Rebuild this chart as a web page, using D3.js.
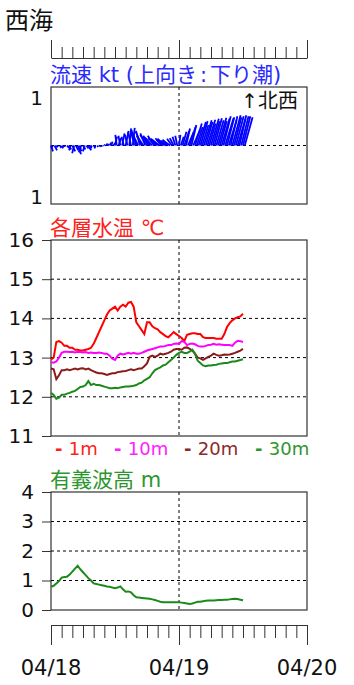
<!DOCTYPE html>
<html>
<head>
<meta charset="utf-8">
<script src="https://cdn.jsdelivr.net/npm/d3@7"></script>
<style>
  body { margin: 0; background: #fff; }
  text { font-family: "DejaVu Sans", "Noto Sans CJK JP", sans-serif; }
</style>
</head>
<body>
<svg id="chart" width="354" height="685"></svg>
<script>
// x axis: hours since 04/18 00:00
const dayLabels = ["04/18", "04/19", "04/20"];
const dayHours = [0, 24, 48];

// current sticks, one every 20 minutes (kt): along = toward 北西 (up), cross = sideways
const curStep = 1 / 3;
const curAlong = [
  -0.12, -0.06, -0.10, -0.04, -0.03, -0.05, -0.06, -0.03, -0.02, -0.05, -0.08, -0.10,
  -0.12, -0.16, -0.10, -0.18, -0.12, -0.14, -0.08, -0.12, -0.06, -0.10, -0.05, -0.08,
  -0.04, -0.06, -0.03, -0.02, -0.03, -0.01, 0.02, 0.04, 0.03, 0.06, 0.08, 0.05,
  0.18, 0.22, 0.15, 0.20, 0.25, 0.18, 0.30, 0.22, 0.35, 0.28, 0.36, 0.30,
  0.32, 0.25, 0.30, 0.28, 0.20, 0.25, 0.22, 0.18, 0.20, 0.16, 0.20, 0.15,
  0.14, 0.12, 0.15, 0.12, 0.14, 0.10, 0.12, 0.10, 0.14, 0.15, 0.18, 0.20,
  0.22, 0.18, 0.28, 0.30, 0.35, 0.28, 0.38, 0.42, 0.32, 0.45, 0.38, 0.48,
  0.50, 0.42, 0.52, 0.48, 0.53, 0.45, 0.55, 0.50, 0.56, 0.52, 0.57, 0.50,
  0.55, 0.60, 0.56, 0.58, 0.52, 0.60, 0.62, 0.58, 0.60, 0.55, 0.62, 0.60,
  0.60, 0.58
];
const curCross = [
  0.04, -0.03, 0.05, 0.02, -0.02, 0.03, 0.03, 0.02, -0.02, 0.04, 0.05, -0.03,
  0.06, -0.04, 0.05, 0.07, 0.04, -0.05, 0.05, -0.04, 0.04, 0.06, 0.03, -0.04,
  0.03, -0.02, 0.02, 0.02, 0.01, 0.02, 0.02, 0.03, 0.02, 0.03, 0.02, 0.04,
  0.04, -0.03, 0.05, -0.04, 0.05, -0.05, 0.06, -0.05, 0.04, -0.06, 0.04, -0.08,
  -0.10, -0.12, -0.08, -0.12, -0.14, -0.10, -0.14, -0.12, -0.15, -0.15, -0.13, -0.16,
  -0.14, -0.15, -0.12, -0.13, -0.15, -0.12, -0.12, -0.14, -0.10, -0.08, -0.06, -0.04,
  0.03, 0.06, 0.08, 0.10, 0.08, 0.12, 0.12, 0.10, 0.14, 0.14, 0.12, 0.15,
  0.15, 0.13, 0.16, 0.14, 0.16, 0.13, 0.16, 0.14, 0.15, 0.15, 0.17, 0.14,
  0.16, 0.15, 0.17, 0.15, 0.16, 0.14, 0.17, 0.15, 0.16, 0.16, 0.14, 0.15,
  0.15, 0.16
];
const curLabels = ["1", "1"];
const curLabelValues = [1, -1];

// water temperature, one every 30 minutes (℃)
const tempStep = 0.5;
const temp1m = [
  12.95, 13.0, 13.4, 13.42, 13.38, 13.3, 13.3, 13.25, 13.25, 13.2, 13.2, 13.18,
  13.18, 13.2, 13.22, 13.25, 13.35, 13.5, 13.65, 13.8, 13.95, 14.1, 14.2, 14.25,
  14.3, 14.2, 14.3, 14.35, 14.3, 14.4, 14.42, 14.3, 13.9, 13.8, 13.7, 13.6,
  13.9, 13.9, 13.8, 13.75, 13.72, 13.65, 13.6, 13.55, 13.52, 13.58, 13.65, 13.6,
  13.55, 13.5, 13.42, 13.58, 13.6, 13.62, 13.62, 13.6, 13.6, 13.52, 13.5, 13.5,
  13.5, 13.5, 13.48, 13.48, 13.48, 13.6, 13.78, 13.88, 13.95, 14.0, 14.03, 14.05,
  14.12
];
const temp10m = [
  12.88, 12.87, 12.9, 13.0, 13.12, 13.15, 13.15, 13.14, 13.15, 13.13, 13.15, 13.14,
  13.13, 13.14, 13.12, 13.13, 13.12, 13.12, 13.13, 13.12, 13.1, 13.1, 13.05, 12.97,
  12.94, 13.05, 13.1, 13.08, 13.1, 13.12, 13.1, 13.12, 13.1, 13.1, 13.12, 13.15,
  13.18, 13.2, 13.22, 13.24, 13.26, 13.28, 13.28, 13.3, 13.32, 13.32, 13.35, 13.36,
  13.35, 13.42, 13.4, 13.32, 13.35, 13.36, 13.34, 13.3, 13.28, 13.28, 13.3, 13.32,
  13.33, 13.35, 13.33, 13.34, 13.33, 13.32, 13.32, 13.32, 13.3, 13.38, 13.43, 13.42,
  13.4
];
const temp20m = [
  12.72, 12.7, 12.45, 12.55, 12.68, 12.68, 12.7, 12.68, 12.7, 12.72, 12.7, 12.72,
  12.73, 12.7, 12.72, 12.68, 12.65, 12.62, 12.6, 12.6, 12.58, 12.56, 12.58, 12.6,
  12.6, 12.63, 12.64, 12.65, 12.66, 12.68, 12.7, 12.68, 12.7, 12.72, 12.72, 12.78,
  12.85, 13.02, 13.05, 13.02, 13.05, 13.1, 13.08, 13.1, 13.12, 13.15, 13.2, 13.22,
  13.22, 13.2, 13.25, 13.26, 13.22, 13.18, 13.1, 13.0, 12.98, 12.94, 12.98, 13.02,
  13.05, 13.1, 13.07, 13.05, 13.06, 13.08, 13.07, 13.08, 13.1, 13.12, 13.15, 13.18,
  13.22
];
const temp30m = [
  12.1, 12.05, 11.95, 11.98, 12.05, 12.05, 12.08, 12.1, 12.13, 12.15, 12.2, 12.25,
  12.26, 12.3, 12.4, 12.3, 12.33, 12.3, 12.3, 12.28, 12.26, 12.24, 12.22, 12.22,
  12.23, 12.22, 12.24, 12.25, 12.26, 12.26, 12.27, 12.28, 12.3, 12.34, 12.36, 12.42,
  12.46, 12.5, 12.6, 12.68, 12.72, 12.75, 12.8, 12.82, 12.88, 12.94, 13.0, 13.07,
  13.12, 13.15, 13.12, 13.12, 13.15, 13.2, 13.1, 12.92, 12.86, 12.8, 12.78, 12.8,
  12.8, 12.81, 12.82, 12.84, 12.85, 12.86, 12.86, 12.88, 12.9, 12.9, 12.92, 12.94,
  12.96
];
const tempTicks = [11, 12, 13, 14, 15, 16];

// significant wave height, one every 30 minutes (m)
const waveHeight = [
  0.79, 0.82, 0.9, 0.98, 1.1, 1.12, 1.13, 1.2, 1.3, 1.4, 1.5, 1.38,
  1.28, 1.18, 1.08, 1.0, 0.9, 0.88, 0.86, 0.84, 0.82, 0.8, 0.79, 0.76,
  0.74, 0.76, 0.8, 0.7, 0.62, 0.63, 0.6, 0.5, 0.43, 0.42, 0.41, 0.4,
  0.39, 0.38, 0.36, 0.34, 0.31, 0.28, 0.26, 0.26, 0.26, 0.26, 0.26, 0.26,
  0.26, 0.25, 0.24, 0.22, 0.2, 0.22, 0.25, 0.28, 0.28, 0.3, 0.31, 0.32,
  0.32, 0.32, 0.33, 0.34, 0.34, 0.35, 0.35, 0.36, 0.37, 0.38, 0.37, 0.35,
  0.33
];
const waveTicks = [0, 1, 2, 3, 4];

const tempSeries = [
  { name: "1m", values: temp1m, line: "#ff0000", text: "#ff2020", lx: 55 },
  { name: "10m", values: temp10m, line: "#ff00ff", text: "#ff20ff", lx: 114 },
  { name: "20m", values: temp20m, line: "#8b1a1a", text: "#8b2a2a", lx: 184 },
  { name: "30m", values: temp30m, line: "#1a8a1a", text: "#2e962e", lx: 255 }
];

const svg = d3.select("#chart");
const left = 51, right = 307;
const gridColor = "#000";
const boxColor = "#333";

const x = d3.scaleLinear().domain([0, 48]).range([left, right]);
const tickHours = d3.range(0, 49, 2);

// title
svg.append("text").attr("x", 5).attr("y", 29)
  .attr("font-size", "24px").attr("fill", "#111").text("西海");

// top time ruler
const topAxis = svg.append("g")
  .attr("transform", "translate(0,58)")
  .call(d3.axisTop(x).tickValues(tickHours).tickSize(11).tickSizeOuter(0).tickFormat(""));
topAxis.select(".domain").attr("stroke", boxColor);
topAxis.selectAll(".tick line").attr("stroke", boxColor)
  .attr("y2", d => (d % 24 === 0 ? -18 : -11));

function panel(top, bottom) {
  const g = svg.append("g");
  g.append("rect").attr("x", left).attr("y", top)
    .attr("width", right - left).attr("height", bottom - top)
    .attr("fill", "none").attr("stroke", boxColor).attr("stroke-width", 1.2);
  g.append("line").attr("x1", x(24)).attr("x2", x(24))
    .attr("y1", top).attr("y2", bottom)
    .attr("stroke", gridColor).attr("stroke-dasharray", "3,3");
  return g;
}

function hGrid(g, y, values) {
  g.selectAll(null).data(values).join("line")
    .attr("x1", left).attr("x2", right)
    .attr("y1", d => y(d)).attr("y2", d => y(d))
    .attr("stroke", gridColor).attr("stroke-dasharray", "3,3");
}

function leftAxis(g, y, ticks) {
  const ax = g.append("g").attr("transform", `translate(${left},0)`)
    .call(d3.axisLeft(y).tickValues(ticks).tickSize(9).tickPadding(8).tickFormat(d3.format("d")));
  ax.select(".domain").remove();
  ax.selectAll(".tick line").attr("stroke", boxColor);
  ax.selectAll(".tick text").attr("font-size", "20px").attr("fill", "#111")
    .attr("font-family", "DejaVu Sans");
}

// ---- current panel
const curTop = 87, curBottom = 204;
const yCur = d3.scaleLinear().domain([-1.2, 1.2]).range([curBottom, curTop]);
const gCur = panel(curTop, curBottom);
hGrid(gCur, yCur, [0]);

const curTitle = svg.append("text").attr("x", 50).attr("y", 82)
  .attr("font-size", "21px").attr("fill", "#2a2aff");
curTitle.append("tspan").text("流速 kt (上向き");
curTitle.append("tspan").attr("dx", 3).text(":");
curTitle.append("tspan").attr("dx", 3).text("下り潮)");

gCur.selectAll(".stick").data(curAlong).join("line")
  .attr("class", "stick")
  .attr("x1", (d, i) => x(i * curStep))
  .attr("y1", yCur(0))
  .attr("x2", (d, i) => x(i * curStep) + (yCur(0) - yCur(curCross[i])))
  .attr("y2", d => yCur(d))
  .attr("stroke", "#0000ff").attr("stroke-width", 1.8);

gCur.selectAll(".clab").data(curLabelValues).join("text")
  .attr("class", "clab")
  .attr("x", 43).attr("y", d => yCur(d)).attr("dy", d => (d > 0 ? "0.4em" : "0.5em"))
  .attr("text-anchor", "end").attr("font-size", "20px").attr("fill", "#111")
  .text((d, i) => curLabels[i]);

gCur.append("text").attr("x", 298).attr("y", 108)
  .attr("text-anchor", "end").attr("font-size", "20px").attr("fill", "#111")
  .attr("font-family", "Noto Sans CJK JP")
  .text("↑北西");

// ---- temperature panel
const tTop = 240, tBottom = 436;
const yTemp = d3.scaleLinear().domain([11, 16]).range([tBottom, tTop]);
const gTemp = panel(tTop, tBottom);
hGrid(gTemp, yTemp, [12, 13, 14, 15]);
leftAxis(gTemp, yTemp, tempTicks);

svg.append("text").attr("x", 50).attr("y", 235)
  .attr("font-size", "21px").attr("fill", "#ff2020").text("各層水温 ℃");

const tempLine = d3.line()
  .x((d, i) => x(i * tempStep))
  .y(d => yTemp(d));

gTemp.selectAll(".tline").data(tempSeries).join("path")
  .attr("class", "tline")
  .attr("d", s => tempLine(s.values))
  .attr("fill", "none").attr("stroke", s => s.line).attr("stroke-width", 2);

const legend = svg.selectAll(".leg").data(tempSeries).join("text")
  .attr("class", "leg")
  .attr("x", s => s.lx).attr("y", 455)
  .attr("font-size", "18px").attr("fill", s => s.text);
legend.append("tspan").attr("font-weight", "bold").text("- ");
legend.append("tspan").text(s => s.name);

// ---- wave panel
const wTop = 492, wBottom = 610;
const yWave = d3.scaleLinear().domain([0, 4]).range([wBottom, wTop]);
const gWave = panel(wTop, wBottom);
hGrid(gWave, yWave, [1, 2, 3]);
leftAxis(gWave, yWave, waveTicks);

svg.append("text").attr("x", 50).attr("y", 487)
  .attr("font-size", "21px").attr("fill", "#2e962e").text("有義波高 m");

gWave.append("path")
  .datum(waveHeight)
  .attr("d", d3.line().x((d, i) => x(i * tempStep)).y(d => yWave(d)))
  .attr("fill", "none").attr("stroke", "#1a8a1a").attr("stroke-width", 2);

// bottom time ruler
const botAxis = svg.append("g")
  .attr("transform", "translate(0,625)")
  .call(d3.axisBottom(x).tickValues(tickHours).tickSize(13).tickSizeOuter(0).tickFormat(""));
botAxis.select(".domain").attr("stroke", boxColor);
botAxis.selectAll(".tick line").attr("stroke", boxColor)
  .attr("y2", d => (d % 24 === 0 ? 20 : 13));

svg.selectAll(".day").data(dayHours).join("text")
  .attr("class", "day")
  .attr("x", d => x(d)).attr("y", 675)
  .attr("text-anchor", "middle").attr("font-size", "21px").attr("fill", "#111")
  .text((d, i) => dayLabels[i]);
</script>
</body>
</html>
